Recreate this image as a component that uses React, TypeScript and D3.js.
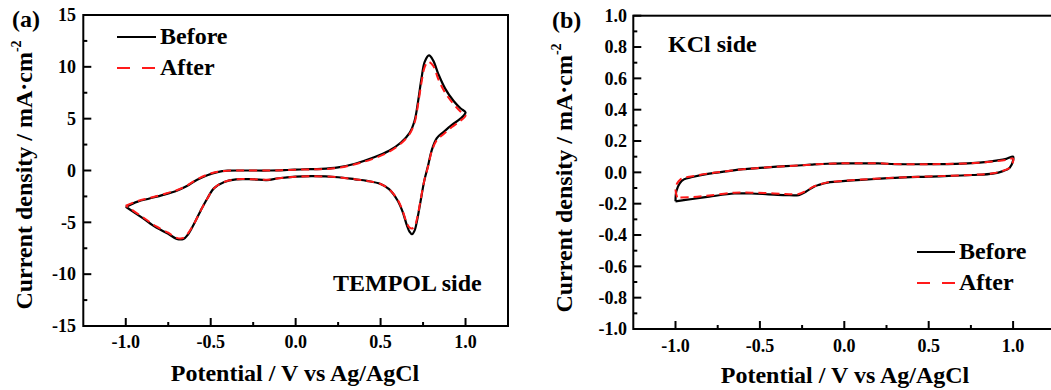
import React, { useRef, useEffect } from 'react';
import * as d3 from 'd3';

// Panel (a): TEMPOL side, CV loop (potential V, current mA/cm2)
const potA_before = [-1.0, -0.93, -0.86, -0.78, -0.7, -0.64, -0.58, -0.52, -0.46, -0.4, -0.3, -0.15, -0.05, 0.05, 0.15, 0.25, 0.35, 0.45, 0.55, 0.62, 0.67, 0.7, 0.72, 0.74, 0.76, 0.785, 0.81, 0.84, 0.88, 0.93, 0.97, 1.0,
  0.97, 0.92, 0.87, 0.83, 0.8, 0.78, 0.757, 0.735, 0.715, 0.7, 0.685, 0.67, 0.655, 0.63, 0.6, 0.55, 0.5, 0.42, 0.35, 0.25, 0.1, 0.0, -0.1, -0.17, -0.25, -0.35, -0.42, -0.48, -0.52, -0.56, -0.6, -0.635, -0.66, -0.7, -0.75, -0.82, -0.9, -1.0];
const curA_before = [-3.5, -3.0, -2.7, -2.35, -1.95, -1.5, -0.9, -0.45, -0.15, -0.02, 0.0, 0.0, 0.05, 0.12, 0.15, 0.3, 0.65, 1.2, 1.9, 2.7, 3.6, 4.8, 6.6, 8.8, 10.5, 11.1, 10.6, 9.3, 7.9, 6.7, 6.0, 5.6,
  5.0, 4.4, 3.7, 3.1, 1.9, 0.5, -1.0, -3.0, -4.8, -5.8, -6.15, -5.9, -5.3, -4.0, -2.9, -1.8, -1.3, -1.0, -0.85, -0.65, -0.55, -0.6, -0.75, -0.92, -0.85, -0.85, -1.1, -1.7, -2.7, -3.9, -5.2, -6.2, -6.6, -6.6, -6.1, -5.5, -4.6, -3.5];

const potA_after = [-1.0, -0.93, -0.86, -0.78, -0.7, -0.64, -0.58, -0.52, -0.46, -0.4, -0.3, -0.15, -0.05, 0.05, 0.15, 0.25, 0.35, 0.45, 0.55, 0.62, 0.67, 0.7, 0.72, 0.74, 0.76, 0.78, 0.81, 0.84, 0.88, 0.93, 0.97, 1.0,
  0.97, 0.92, 0.87, 0.83, 0.8, 0.78, 0.757, 0.735, 0.715, 0.7, 0.685, 0.67, 0.655, 0.63, 0.6, 0.55, 0.5, 0.42, 0.35, 0.25, 0.1, 0.0, -0.1, -0.17, -0.25, -0.35, -0.42, -0.48, -0.52, -0.56, -0.6, -0.635, -0.66, -0.7, -0.75, -0.82, -0.9, -1.0];
const curA_after = [-3.4, -2.95, -2.65, -2.3, -1.9, -1.45, -0.85, -0.4, -0.12, -0.02, 0.0, 0.0, 0.05, 0.1, 0.13, 0.25, 0.6, 1.1, 1.8, 2.6, 3.5, 4.6, 6.3, 8.4, 10.0, 10.5, 10.1, 8.8, 7.5, 6.4, 5.7, 5.3,
  4.8, 4.2, 3.5, 2.9, 1.8, 0.4, -1.0, -2.9, -4.6, -5.4, -5.6, -5.5, -5.1, -3.9, -2.8, -1.8, -1.3, -1.0, -0.85, -0.65, -0.55, -0.6, -0.75, -0.9, -0.85, -0.85, -1.1, -1.7, -2.7, -3.9, -5.2, -6.1, -6.5, -6.5, -6.0, -5.4, -4.5, -3.4];

// Panel (b): KCl side
const potB_before = [-1.0, -0.995, -0.975, -0.95, -0.9, -0.8, -0.7, -0.6, -0.5, -0.4, -0.3, -0.2, -0.1, 0.0, 0.2, 0.3, 0.5, 0.7, 0.8, 0.9, 0.96, 1.0,
  1.0, 0.98, 0.94, 0.88, 0.76, 0.5, 0.3, 0.1, -0.05, -0.1, -0.15, -0.18, -0.23, -0.27, -0.35, -0.45, -0.55, -0.65, -0.8, -0.9, -1.0];
const curB_before = [-0.185, -0.12, -0.07, -0.045, -0.03, -0.008, 0.006, 0.02, 0.028, 0.036, 0.042, 0.049, 0.055, 0.057, 0.057, 0.053, 0.052, 0.056, 0.062, 0.075, 0.086, 0.1,
  0.075, 0.03, 0.008, -0.008, -0.017, -0.027, -0.035, -0.048, -0.06, -0.066, -0.08, -0.092, -0.125, -0.145, -0.145, -0.14, -0.135, -0.135, -0.155, -0.17, -0.185];

const potB_after = [-0.99, -1.0, -0.99, -0.97, -0.95, -0.9, -0.8, -0.7, -0.6, -0.5, -0.4, -0.3, -0.2, -0.1, 0.0, 0.2, 0.3, 0.5, 0.7, 0.8, 0.9, 0.96, 1.0,
  1.0, 0.98, 0.94, 0.88, 0.76, 0.5, 0.3, 0.1, -0.05, -0.1, -0.15, -0.18, -0.23, -0.27, -0.35, -0.45, -0.55, -0.65, -0.8, -0.9, -0.99];
const curB_after = [-0.16, -0.11, -0.07, -0.045, -0.035, -0.025, -0.006, 0.007, 0.02, 0.028, 0.036, 0.042, 0.049, 0.055, 0.058, 0.058, 0.053, 0.052, 0.056, 0.062, 0.072, 0.08, 0.088,
  0.07, 0.03, 0.01, -0.006, -0.016, -0.026, -0.034, -0.046, -0.058, -0.064, -0.078, -0.09, -0.12, -0.138, -0.138, -0.133, -0.13, -0.13, -0.148, -0.158, -0.16];

// ticks
const xTicks = [-1.0, -0.5, 0.0, 0.5, 1.0];
const xMinor = [-0.75, -0.25, 0.25, 0.75];
const yTicksA = [-15, -10, -5, 0, 5, 10, 15];
const yMinorA = [-12.5, -7.5, -2.5, 2.5, 7.5, 12.5];
const yTicksB = [-1.0, -0.8, -0.6, -0.4, -0.2, 0.0, 0.2, 0.4, 0.6, 0.8, 1.0];
const yMinorB = [-0.9, -0.7, -0.5, -0.3, -0.1, 0.1, 0.3, 0.5, 0.7, 0.9];

const FONT = '"Liberation Serif", "Times New Roman", serif';

interface Series { x: number[]; y: number[]; color: string; dash?: string; width: number }

interface PanelCfg {
    x0: number; x1: number; yTop: number; yBot: number;
    yDomain: [number, number];
    yTicks: number[]; yMinor: number[]; yFmt: (v: number) => string;
    yLabelX: number; xLabelY: number;
    xTitle: [number, number]; yTitle: [number, number];
    tag: string; tagPos: [number, number];
    note: string; notePos: [number, number];
    legend: [number, number, number]; // line x start, line x end, y of first row
    series: Series[];
}

const fmtHyphen = (f: (v: number) => string) => (v: number) => f(v).replace('−', '-');

function drawPanel(root: d3.Selection<SVGGElement, unknown, null, undefined>, c: PanelCfg) {
    const x = d3.scaleLinear().domain([-1.25, 1.25]).range([c.x0, c.x1]);
    const y = d3.scaleLinear().domain(c.yDomain).range([c.yBot, c.yTop]);
    const g = root.append('g');

    // series (black first, red dashed on top)
    const line = d3.line<[number, number]>()
        .x(d => x(d[0])).y(d => y(d[1]))
        .curve(d3.curveCatmullRom.alpha(0.5));
    c.series.forEach(s => {
        const pts: [number, number][] = s.x.map((v, i) => [v, s.y[i]]);
        g.append('path')
            .attr('d', line(pts))
            .attr('fill', 'none')
            .attr('stroke', s.color)
            .attr('stroke-width', s.width)
            .attr('stroke-dasharray', s.dash ?? null)
            .attr('stroke-linejoin', 'round');
    });

    // frame
    g.append('rect')
        .attr('x', c.x0).attr('y', c.yTop)
        .attr('width', c.x1 - c.x0).attr('height', c.yBot - c.yTop)
        .attr('fill', 'none').attr('stroke', '#000').attr('stroke-width', 2);

    // x ticks (inward)
    g.selectAll(null).data(xTicks).join('line')
        .attr('x1', d => x(d)).attr('x2', d => x(d))
        .attr('y1', c.yBot).attr('y2', c.yBot - 8)
        .attr('stroke', '#000').attr('stroke-width', 2);
    g.selectAll(null).data(xMinor).join('line')
        .attr('x1', d => x(d)).attr('x2', d => x(d))
        .attr('y1', c.yBot).attr('y2', c.yBot - 4)
        .attr('stroke', '#000').attr('stroke-width', 2);
    g.selectAll(null).data(xTicks).join('text')
        .attr('x', d => x(d)).attr('y', c.xLabelY)
        .attr('text-anchor', 'middle')
        .attr('font-family', FONT).attr('font-weight', 'bold').attr('font-size', 18)
        .text(d => fmtHyphen(d3.format('.1f'))(d));

    // y ticks
    g.selectAll(null).data(c.yTicks).join('line')
        .attr('x1', c.x0).attr('x2', c.x0 + 8)
        .attr('y1', d => y(d)).attr('y2', d => y(d))
        .attr('stroke', '#000').attr('stroke-width', 2);
    g.selectAll(null).data(c.yMinor).join('line')
        .attr('x1', c.x0).attr('x2', c.x0 + 4)
        .attr('y1', d => y(d)).attr('y2', d => y(d))
        .attr('stroke', '#000').attr('stroke-width', 2);
    g.selectAll(null).data(c.yTicks).join('text')
        .attr('x', c.yLabelX).attr('y', d => y(d))
        .attr('dy', '0.35em')
        .attr('text-anchor', 'end')
        .attr('font-family', FONT).attr('font-weight', 'bold').attr('font-size', 18)
        .text(d => c.yFmt(d));

    const txt = (px: number, py: number, s: string, anchor = 'start') =>
        g.append('text').attr('x', px).attr('y', py).attr('text-anchor', anchor)
            .attr('font-family', FONT).attr('font-weight', 'bold').attr('font-size', 24)
            .text(s);

    // titles
    txt(c.xTitle[0], c.xTitle[1], 'Potential / V vs Ag/AgCl', 'middle');
    const yt = g.append('text')
        .attr('transform', `translate(${c.yTitle[0]},${c.yTitle[1]}) rotate(-90)`)
        .attr('text-anchor', 'middle')
        .attr('font-family', FONT).attr('font-weight', 'bold').attr('font-size', 24);
    yt.append('tspan').text('Current density / mA·cm');
    yt.append('tspan').attr('font-size', 14).attr('dy', -11).text('-2');

    txt(c.tagPos[0], c.tagPos[1], c.tag);
    txt(c.notePos[0], c.notePos[1], c.note);

    // legend
    const [lx0, lx1, ly] = c.legend;
    const rows = [
        { label: 'Before', s: c.series[0], dash: null as string | null },
        { label: 'After', s: c.series[1], dash: '13,12' },
    ];
    rows.forEach((r, i) => {
        const yy = ly + i * 31;
        g.append('line')
            .attr('x1', lx0).attr('x2', lx1).attr('y1', yy).attr('y2', yy)
            .attr('stroke', r.s.color).attr('stroke-width', 2)
            .attr('stroke-dasharray', r.dash);
        txt(lx1 + 4, yy + 7, r.label);
    });
}

const App: React.FC = () => {
    const svgRef = useRef<SVGSVGElement | null>(null);

    useEffect(() => {
        if (!svgRef.current) return;
        const svg = d3.select(svgRef.current);
        svg.selectAll('*').remove();
        const root = svg.append('g');

        drawPanel(root, {
            x0: 83.3, x1: 508, yTop: 15, yBot: 326,
            yDomain: [-15, 15],
            yTicks: yTicksA, yMinor: yMinorA, yFmt: fmtHyphen(d3.format('d')),
            yLabelX: 76, xLabelY: 348,
            xTitle: [295, 381], yTitle: [32, 175],
            tag: '(a)', tagPos: [12, 27],
            note: 'TEMPOL side', notePos: [333, 291],
            legend: [117, 156, 37],
            series: [
                { x: potA_before, y: curA_before, color: '#000000', width: 2.2 },
                { x: potA_after, y: curA_after, color: '#ff1a1a', dash: '8,5', width: 2 },
            ],
        });

        drawPanel(root, {
            x0: 633.3, x1: 1055.3, yTop: 15.7, yBot: 329,
            yDomain: [-1, 1],
            yTicks: yTicksB, yMinor: yMinorB, yFmt: fmtHyphen(d3.format('.1f')),
            yLabelX: 627, xLabelY: 352,
            xTitle: [845, 383], yTitle: [572, 178],
            tag: '(b)', tagPos: [552, 28],
            note: 'KCl side', notePos: [668, 52],
            legend: [917, 955, 252],
            series: [
                { x: potB_before, y: curB_before, color: '#000000', width: 2.2 },
                { x: potB_after, y: curB_after, color: '#ff1a1a', dash: '8,5', width: 2 },
            ],
        });
    }, []);

    return (
        <div style={{ position: 'absolute', left: 0, top: 0, width: 1051, height: 390, background: '#fff' }}>
            <svg ref={svgRef} width={1051} height={390}></svg>
        </div>
    );
};

export default App;
